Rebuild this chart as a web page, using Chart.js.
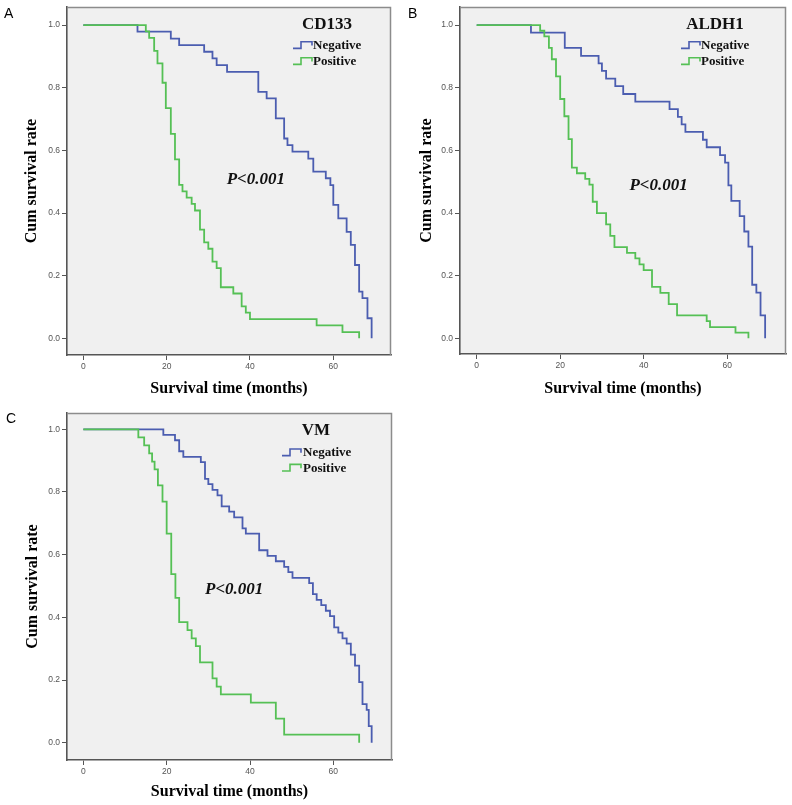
<!DOCTYPE html>
<html><head><meta charset="utf-8">
<script src="https://cdn.jsdelivr.net/npm/chart.js@4/dist/chart.umd.min.js"></script>
<style>
html,body{margin:0;padding:0;background:#fff;}
body{width:792px;height:805px;position:relative;overflow:hidden;}
.panel{position:absolute;}
.panel canvas{display:block;}
.letter{position:absolute;font-family:"Liberation Sans",Arial,sans-serif;font-size:14px;color:#000;line-height:14px;}
</style></head><body>
<div class="panel" style="left:0;top:0;width:396px;height:400px"><canvas id="cA" width="396" height="400"></canvas></div>
<div class="panel" style="left:396px;top:0;width:396px;height:400px"><canvas id="cB" width="396" height="400"></canvas></div>
<div class="panel" style="left:0;top:400px;width:396px;height:405px"><canvas id="cC" width="396" height="405"></canvas></div>
<div class="letter" style="left:4px;top:6px">A</div>
<div class="letter" style="left:408px;top:6px">B</div>
<div class="letter" style="left:6px;top:411px">C</div>
<script>
// ---- tick labels / texts ----
const xTickValues = [0, 20, 40, 60];
const yTickValues = [0, 0.2, 0.4, 0.6, 0.8, 1.0];
const seriesNames = ['Negative', 'Positive'];
const markerNames = ['CD133', 'ALDH1', 'VM'];
const pValueText = 'P<0.001';
const xTitle = 'Survival time (months)';
const yTitle = 'Cum survival rate';

// ---- CD133 ----
const cd133NegTime = [0, 13, 21, 23, 29, 31, 32, 34.5, 42, 44, 46.2, 48.2, 49, 50.2, 54, 55.2, 58.2, 59.3, 60, 61.2, 63.2, 64.2, 65.2, 66.2, 67, 68.2, 69.2];
const cd133NegSurv = [1, 0.979, 0.957, 0.936, 0.915, 0.894, 0.872, 0.851, 0.787, 0.766, 0.702, 0.638, 0.617, 0.596, 0.574, 0.532, 0.511, 0.489, 0.426, 0.383, 0.340, 0.298, 0.234, 0.149, 0.128, 0.064, 0];
const cd133PosTime = [0, 15, 15.8, 17, 17.8, 19, 19.8, 21, 22, 23, 23.8, 24.8, 26, 26.8, 28, 29, 30, 31, 32, 33, 36, 38, 39, 40, 56, 62.2, 66.2];
const cd133PosSurv = [1, 0.980, 0.959, 0.918, 0.878, 0.816, 0.735, 0.653, 0.571, 0.490, 0.469, 0.449, 0.429, 0.408, 0.347, 0.306, 0.286, 0.245, 0.224, 0.163, 0.143, 0.102, 0.082, 0.061, 0.041, 0.020, 0];

// ---- ALDH1 ----
const aldh1NegTime = [0, 13, 21.1, 25, 29.2, 30, 31, 33.2, 35.1, 38, 46.2, 48.2, 49.1, 50, 54.2, 55.1, 58.3, 59.5, 60.3, 61, 63, 64.1, 65.1, 66, 67, 68, 69.1];
const aldh1NegSurv = [1, 0.976, 0.927, 0.902, 0.878, 0.854, 0.829, 0.805, 0.780, 0.756, 0.732, 0.707, 0.683, 0.659, 0.634, 0.610, 0.585, 0.561, 0.488, 0.439, 0.390, 0.341, 0.293, 0.171, 0.146, 0.073, 0];
const aldh1PosTime = [0, 15.2, 16.2, 17.3, 18, 19, 20, 21, 22, 22.8, 24, 26, 27, 27.8, 28.8, 31, 32, 33, 36, 38, 39, 40, 42, 44, 46, 48, 55.1, 55.9, 62, 65.1];
const aldh1PosSurv = [1, 0.982, 0.964, 0.927, 0.891, 0.836, 0.764, 0.709, 0.636, 0.545, 0.527, 0.509, 0.491, 0.436, 0.400, 0.364, 0.327, 0.291, 0.273, 0.255, 0.236, 0.218, 0.164, 0.145, 0.109, 0.073, 0.055, 0.036, 0.018, 0];

// ---- VM ----
const vmNegTime = [0, 19.2, 22, 23, 24, 28.2, 29.2, 30, 31, 32.2, 33.2, 35, 36.2, 38.2, 39, 42.2, 44.2, 46.2, 48.2, 49.2, 50.2, 54.2, 55.1, 56, 57.1, 58.2, 59.2, 60.2, 61.2, 62.2, 63.2, 64.2, 65.2, 66.2, 67, 68, 68.5, 69.2];
const vmNegSurv = [1, 0.982, 0.965, 0.930, 0.912, 0.895, 0.842, 0.825, 0.807, 0.789, 0.754, 0.737, 0.719, 0.684, 0.667, 0.614, 0.596, 0.579, 0.561, 0.544, 0.526, 0.509, 0.474, 0.456, 0.439, 0.421, 0.404, 0.368, 0.351, 0.333, 0.316, 0.281, 0.246, 0.193, 0.123, 0.105, 0.053, 0];
const vmPosTime = [0, 13.2, 14.6, 15.8, 16.5, 17.1, 17.9, 19, 20, 21.1, 22.1, 23, 25, 26, 27, 28, 31, 32, 33, 40.2, 46.2, 48.2, 66.2];
const vmPosSurv = [1, 0.974, 0.949, 0.923, 0.897, 0.872, 0.821, 0.769, 0.667, 0.538, 0.462, 0.385, 0.359, 0.333, 0.308, 0.256, 0.205, 0.179, 0.154, 0.128, 0.077, 0.026, 0];

const NEG_COLOR = '#4b5db0';
const POS_COLOR = '#55c055';
const SERIF = '"Liberation Serif","Times New Roman",serif';
const SANS = '"Liberation Sans",Arial,sans-serif';

function pts(t, s) { return t.map((v, i) => ({x: v, y: s[i]})); }

// per-panel layout (style only)
const panels = [
  {id: 'cA', marker: markerNames[0], neg: [cd133NegTime, cd133NegSurv], pos: [cd133PosTime, cd133PosSurv],
   pad: {left: 0, top: 7, right: 5, bottom: 0}, yW: 67, xH: 45, yTitlePad: 22.4, xTitlePad: 1.4,
   xMin: -3.92, xMax: 73.85, yMin: -0.0533, yMax: 1.0575,
   leg: {titleDX: 64, titleDY: 18, symDX: 98, textDX: 78, row1: 38, row2: 54}, pv: {x: 34.4, y: 0.508}},
  {id: 'cB', marker: markerNames[1], neg: [aldh1NegTime, aldh1NegSurv], pos: [aldh1PosTime, aldh1PosSurv],
   pad: {left: 0, top: 7, right: 6, bottom: 0}, yW: 64, xH: 46, yTitlePad: 21.4, xTitlePad: 1.9,
   xMin: -4.0, xMax: 74.1, yMin: -0.0501, yMax: 1.0575,
   leg: {titleDX: 71, titleDY: 18, symDX: 105, textDX: 85, row1: 38, row2: 54}, pv: {x: 36.6, y: 0.489}},
  {id: 'cC', marker: markerNames[2], neg: [vmNegTime, vmNegSurv], pos: [vmPosTime, vmPosSurv],
   pad: {left: 0, top: 13, right: 4, bottom: 0}, yW: 67, xH: 45, yTitlePad: 22.9, xTitlePad: 3.4,
   xMin: -3.92, xMax: 74.08, yMin: -0.0552, yMax: 1.052,
   leg: {titleDX: 76, titleDY: 17.7, symDX: 110, textDX: 89, row1: 39.3, row2: 54.7}, pv: {x: 29.2, y: 0.487}}
];

const decoPlugin = {
  id: 'kmDeco',
  beforeDraw(chart) {
    const {ctx, chartArea: a} = chart;
    ctx.save();
    ctx.fillStyle = '#f0f0f0';
    ctx.fillRect(a.left, a.top, a.right - a.left, a.bottom - a.top);
    ctx.restore();
  },
  afterDraw(chart, args, o) {
    const {ctx, chartArea: a} = chart;
    ctx.save();
    // top & right frame
    ctx.strokeStyle = '#8c8c8c';
    ctx.lineWidth = 1.5;
    ctx.beginPath();
    ctx.moveTo(a.left, a.top + 0.5); ctx.lineTo(a.right - 0.5, a.top + 0.5); ctx.lineTo(a.right - 0.5, a.bottom);
    ctx.stroke();
    // legend
    const L = o.leg;
    ctx.fillStyle = '#111';
    ctx.textBaseline = 'middle';
    ctx.textAlign = 'center';
    ctx.font = 'bold 17px ' + SERIF;
    ctx.fillText(o.marker, a.right - L.titleDX, a.top + L.titleDY);
    const rows = [[L.row1, NEG_COLOR, seriesNames[0]], [L.row2, POS_COLOR, seriesNames[1]]];
    ctx.font = 'bold 13px ' + SERIF;
    ctx.textAlign = 'left';
    rows.forEach(([dy, col, name]) => {
      const y = a.top + dy;
      const sx = a.right - L.symDX;
      ctx.strokeStyle = col;
      ctx.lineWidth = 1.6;
      ctx.beginPath();
      ctx.moveTo(sx, y + 3.3); ctx.lineTo(sx + 8, y + 3.3); ctx.lineTo(sx + 8, y - 3.3);
      ctx.lineTo(sx + 19, y - 3.3); ctx.lineTo(sx + 19, y + 0.5);
      ctx.stroke();
      ctx.fillStyle = '#111';
      ctx.fillText(name, a.right - L.textDX, y + 0.5);
    });
    // p value
    const xs = chart.scales.x, ys = chart.scales.y;
    ctx.font = 'italic bold 17px ' + SERIF;
    ctx.fillStyle = '#111';
    ctx.fillText(pValueText, xs.getPixelForValue(o.pv.x), ys.getPixelForValue(o.pv.y));
    ctx.restore();
  }
};

panels.forEach(p => {
  new Chart(document.getElementById(p.id), {
    type: 'line',
    data: {
      datasets: [
        {label: seriesNames[0], data: pts(p.neg[0], p.neg[1]), borderColor: NEG_COLOR, borderWidth: 1.8,
         stepped: 'before', pointRadius: 0, fill: false, order: 1},
        {label: seriesNames[1], data: pts(p.pos[0], p.pos[1]), borderColor: POS_COLOR, borderWidth: 1.8,
         stepped: 'before', pointRadius: 0, fill: false, order: 0}
      ]
    },
    options: {
      responsive: false,
      animation: false,
      devicePixelRatio: 1,
      layout: {padding: p.pad},
      plugins: {legend: {display: false}, tooltip: {enabled: false}, kmDeco: p},
      scales: {
        x: {
          type: 'linear', min: p.xMin, max: p.xMax,
          afterBuildTicks: ax => { ax.ticks = xTickValues.map(v => ({value: v})); },
          afterFit: ax => { ax.height = p.xH; },
          grid: {display: true, drawOnChartArea: false, drawTicks: true, tickLength: 5, tickColor: '#555', tickWidth: 1},
          border: {display: true, color: '#555', width: 1.6},
          ticks: {font: {family: SANS, size: 8.5}, color: '#555', padding: 2, maxRotation: 0,
                  callback: v => String(v)},
          title: {display: true, text: xTitle, color: '#000', font: {family: SERIF, size: 16, weight: 'bold'},
                  padding: {top: 0, bottom: p.xTitlePad}}
        },
        y: {
          type: 'linear', min: p.yMin, max: p.yMax,
          afterBuildTicks: ax => { ax.ticks = yTickValues.map(v => ({value: v})); },
          afterFit: ax => { ax.width = p.yW; },
          grid: {display: true, drawOnChartArea: false, drawTicks: true, tickLength: 5, tickColor: '#555', tickWidth: 1},
          border: {display: true, color: '#555', width: 1.6},
          ticks: {font: {family: SANS, size: 8.5}, color: '#555', padding: 2,
                  callback: v => Number(v).toFixed(1)},
          title: {display: true, text: yTitle, color: '#000', font: {family: SERIF, size: 16, weight: 'bold'},
                  padding: {top: p.yTitlePad, bottom: 0}}
        }
      }
    },
    plugins: [decoPlugin]
  });
});
</script>
</body></html>
